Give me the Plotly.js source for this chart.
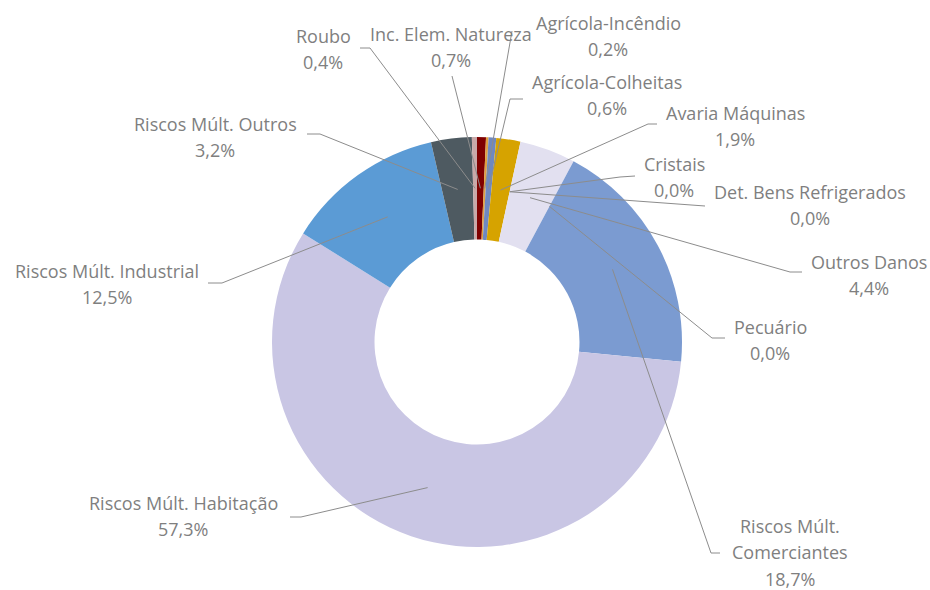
<!DOCTYPE html>
<html>
<head>
<meta charset="utf-8">
<script src="https://cdn.plot.ly/plotly-3.0.1.min.js"></script>
<style>html,body{margin:0;padding:0;background:#fff;}#chart{width:930px;height:590px;}</style>
</head>
<body>
<div id="chart"></div>
<script>
// ---- data (clockwise from 12 o'clock) ----
const categories = [
  "Inc. Elem. Natureza", "Agrícola-Incêndio", "Agrícola-Colheitas", "Avaria Máquinas",
  "Cristais", "Det. Bens Refrigerados", "Outros Danos", "Pecuário",
  "Riscos Múlt. Comerciantes", "Riscos Múlt. Habitação", "Riscos Múlt. Industrial",
  "Riscos Múlt. Outros", "Roubo"
];
const shares = [0.7, 0.2, 0.6, 1.9, 0.0, 0.0, 4.4, 0.0, 18.7, 57.3, 12.5, 3.2, 0.4];
const sliceColors = [
  "#7F0000", "#E0A040", "#6F88C0", "#D6A300",
  "#9DC3E6", "#F4B183", "#E2E0F0", "#A9D18E",
  "#7B9BD1", "#C9C6E4", "#5B9BD5", "#4E5A61", "#C9A9A9"
];
// label line breaks (display only)
const labelLines = {
  "Riscos Múlt. Comerciantes": ["Riscos Múlt.", "Comerciantes"]
};

// ---- layout constants (pixels) ----
const W = 930, H = 590;
const CX = 477, CY = 342, R = 205, HOLE = 0.5;
// label block centre [x, y] in px
const labelPos = [
  [451, 47], [608, 36], [607, 95], [735, 126],
  [674, 177], [810, 205], [869, 275], [770, 340],
  [790, 552], [183, 516], [107, 284], [215, 137], [323, 49]
];
// leader line: [label-side end, elbow] in px
const leaders = [
  [[452, 76], null], [[512, 31], null], [[523, 99], [510, 99]], [[657, 124], [648, 124]],
  [[635, 176], [620, 177]], [[705, 206], null], [[802, 272], [790, 272]], [[725, 338], [712, 338]],
  [[720, 553], [711, 553]], [[290, 517], [301, 517]], [[208, 283], [222, 283]], [[307, 134], [320, 134]], [[360, 48], [370, 48]]
];

const px = x => x / W;
const py = y => 1 - y / H;
const fmt = v => v.toFixed(1).replace('.', ',') + '%';

const total = shares.reduce((a, b) => a + b, 0);
const midR = R * (1 + HOLE) / 2;
let cum = 0;
const shapes = [];
const annotations = [];
const FONT = {family: "'Open Sans', Lato, sans-serif", size: 18, color: '#7f7f7f'};
const LH = 26.5;
categories.forEach((c, i) => {
  const mid = (cum + shares[i] / 2) / total * 2 * Math.PI;
  cum += shares[i];
  const ax = CX + midR * Math.sin(mid);
  const ay = CY - midR * Math.cos(mid);
  const [end, elbow] = leaders[i];
  let path = `M ${px(end[0])},${py(end[1])}`;
  if (elbow) path += ` L ${px(elbow[0])},${py(elbow[1])}`;
  path += ` L ${px(ax)},${py(ay)}`;
  shapes.push({type: 'path', xref: 'paper', yref: 'paper', path: path,
    line: {color: '#8c8c8c', width: 1}});
  const lines = (labelLines[c] || [c]).concat([fmt(shares[i])]);
  const [lx, ly] = labelPos[i];
  const y0 = ly - (lines.length - 1) * LH / 2;
  lines.forEach((t, k) => {
    annotations.push({xref: 'paper', yref: 'paper', x: px(lx), y: py(y0 + k * LH),
      xanchor: 'center', yanchor: 'middle', text: t, showarrow: false, font: FONT,
      borderpad: 0});
  });
});

const trace = {
  type: 'pie',
  labels: categories,
  values: shares,
  sort: false,
  direction: 'clockwise',
  rotation: 0,
  hole: HOLE,
  textinfo: 'none',
  marker: {colors: sliceColors, line: {width: 0}},
  domain: {x: [px(CX - R), px(CX + R)], y: [py(CY + R), py(CY - R)]},
  showlegend: false
};

const layout = {
  width: W, height: H,
  margin: {l: 0, r: 0, t: 0, b: 0},
  paper_bgcolor: '#ffffff',
  showlegend: false,
  shapes: shapes,
  annotations: annotations
};
Plotly.newPlot('chart', [trace], layout, {displayModeBar: false, staticPlot: true});
</script>
</body>
</html>
